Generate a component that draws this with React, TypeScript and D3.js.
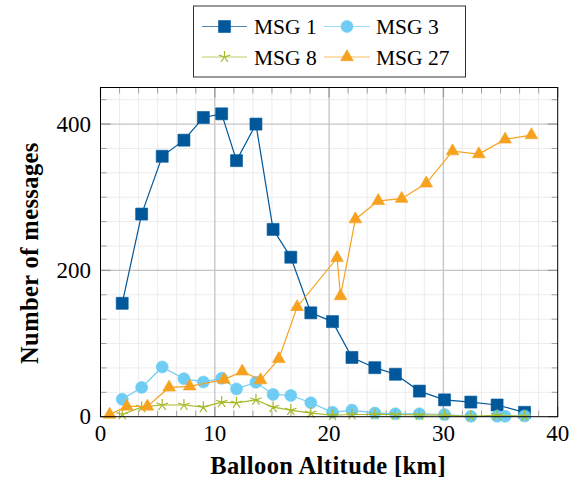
import React from "react";
import * as d3 from "d3";

const xTicks = [0, 10, 20, 30, 40];
const yTicks = [0, 200, 400];

const msg1X = [1.9, 3.6, 5.4, 7.3, 9.0, 10.6, 11.9, 13.6, 15.1, 16.65, 18.4, 20.3, 22.0, 24.0, 25.8, 27.9, 30.1, 32.4, 34.7, 37.1];
const msg1Y = [155, 277, 356, 378, 409, 414, 350, 400, 256, 218, 142, 130, 81, 67, 58, 35, 23, 20, 16, 6];

const msg3X = [1.9, 3.6, 5.4, 7.3, 9.0, 10.6, 11.9, 13.6, 15.1, 16.65, 18.4, 20.3, 22.0, 24.0, 25.8, 27.9, 30.1, 32.4, 34.7, 35.4, 37.1];
const msg3Y = [24, 40, 68, 52, 47.5, 52.5, 38, 47, 30.5, 29, 19, 6, 9, 5, 4, 4, 3, 0.5, 0.5, 0.5, 1];

const msg8X = [1.9, 3.6, 5.4, 7.3, 9.0, 10.6, 11.9, 13.6, 15.1, 16.65, 18.4, 20.3, 22.0, 24.0, 25.8, 27.9, 30.1, 32.4, 34.7, 37.1];
const msg8Y = [3, 13, 16, 16, 13, 20, 19, 23, 13, 9, 5, 2, 3, 3, 3, 2.5, 2, 0.5, 2, 0.5];

const msg27X = [0.8, 2.3, 4.1, 6.0, 7.8, 10.8, 12.4, 14.0, 15.6, 17.2, 20.7, 21.0, 22.3, 24.3, 26.35, 28.5, 30.8, 33.1, 35.4, 37.7];
const msg27Y = [3, 14, 14, 40, 41.5, 50.7, 62, 50, 79, 150, 217, 165, 270, 295, 298, 319, 363, 359, 379, 385];

const seriesNames = ["MSG 1", "MSG 3", "MSG 8", "MSG 27"];

type Mark = "square" | "circle" | "star" | "triangle";

const W = 579, H = 482;
const L = 100.5, R = 557.7, T = 87.5, B = 416.7;
const FONT = "Liberation Serif, DejaVu Serif, serif";

function markerPath(m: Mark): string {
  if (m === "square") return d3.symbol(d3.symbolSquare, 144)()!;
  if (m === "circle") return d3.symbol(d3.symbolCircle, Math.PI * 36)()!;
  if (m === "triangle") return d3.symbol(d3.symbolTriangle, 70)()!;
  const r = 6;
  let p = "";
  for (let i = 0; i < 5; i++) {
    const a = -Math.PI / 2 + (i * 2 * Math.PI) / 5;
    p += `M0,0L${(r * Math.cos(a)).toFixed(2)},${(r * Math.sin(a)).toFixed(2)}`;
  }
  return p;
}

export default function App() {
  const x = d3.scaleLinear().domain([0, 40]).range([L, R]);
  const y = d3.scaleLinear().domain([0, 450]).range([B, T]);

  const series = [
    { name: seriesNames[0], xs: msg1X, ys: msg1Y, color: "#00589b", mark: "square" as Mark },
    { name: seriesNames[1], xs: msg3X, ys: msg3Y, color: "#6fcdf3", mark: "circle" as Mark },
    { name: seriesNames[2], xs: msg8X, ys: msg8Y, color: "#a8b92a", mark: "star" as Mark },
    { name: seriesNames[3], xs: msg27X, ys: msg27Y, color: "#f7a21f", mark: "triangle" as Mark },
  ];

  const line = d3.line<[number, number]>().x(d => x(d[0])).y(d => y(d[1]));

  const xMinor = d3.range(0, 40.001, 10 / 6).filter(v => Math.abs(v / 10 - Math.round(v / 10)) > 1e-6);
  const yMinor = d3.range(0, 450.001, 200 / 6).filter(v => Math.abs(v / 200 - Math.round(v / 200)) > 1e-6);
  const xMajor = x.ticks(4);
  const yMajor = yTicks;

  const renderMark = (m: Mark, color: string, cx: number, cy: number, key: any) => {
    const d = markerPath(m);
    if (m === "star") {
      return <path key={key} d={d} transform={`translate(${cx},${cy})`} stroke={color} strokeWidth={1.2} fill="none" />;
    }
    return <path key={key} d={d} transform={`translate(${cx},${cy})`} fill={color} stroke={color} strokeOpacity={0.6} strokeWidth={1} />;
  };

  const legendRows = [
    { cols: [0, 1], cy: 26.5 },
    { cols: [2, 3], cy: 57 },
  ];
  const colX = [{ l0: 202, l1: 247, t: 254 }, { l0: 324, l1: 370, t: 376 }];
  const fontStyle = { fontFamily: FONT };
  const titleStyle = { fontFamily: FONT, letterSpacing: "0.4px" };

  return (
    <svg width={W} height={H} style={{ display: "block", position: "absolute", left: 0, top: 0 }}>
      <rect x={0} y={0} width={W} height={H} fill="#fff" />
      <g stroke="#ececec" strokeWidth={1}>
        {xMinor.map((v, i) => <line key={"xm" + i} x1={x(v)} x2={x(v)} y1={T} y2={B} />)}
        {yMinor.map((v, i) => <line key={"ym" + i} x1={L} x2={R} y1={y(v)} y2={y(v)} />)}
      </g>
      <g stroke="#c4c4c4" strokeWidth={1.3}>
        {xMajor.filter(v => v > 0 && v < 40).map((v, i) => <line key={"xM" + i} x1={x(v)} x2={x(v)} y1={T} y2={B} />)}
        {yMajor.filter(v => v > 0).map((v, i) => <line key={"yM" + i} x1={L} x2={R} y1={y(v)} y2={y(v)} />)}
      </g>
      <g stroke="#a0a0a0" strokeWidth={1}>
        {xMinor.map((v, i) => (
          <g key={"xmt" + i}>
            <line x1={x(v)} x2={x(v)} y1={B} y2={B - 6} />
            <line x1={x(v)} x2={x(v)} y1={T} y2={T + 6} />
          </g>
        ))}
        {yMinor.map((v, i) => (
          <g key={"ymt" + i}>
            <line x1={L} x2={L + 6} y1={y(v)} y2={y(v)} />
            <line x1={R} x2={R - 6} y1={y(v)} y2={y(v)} />
          </g>
        ))}
      </g>
      <g stroke="#999" strokeWidth={1.3}>
        {xMajor.map((v, i) => (
          <g key={"xMt" + i}>
            <line x1={x(v)} x2={x(v)} y1={B} y2={B - 10} />
            <line x1={x(v)} x2={x(v)} y1={T} y2={T + 10} />
          </g>
        ))}
        {yMajor.map((v, i) => (
          <g key={"yMt" + i}>
            <line x1={L} x2={L + 10} y1={y(v)} y2={y(v)} />
            <line x1={R} x2={R - 10} y1={y(v)} y2={y(v)} />
          </g>
        ))}
      </g>
      {series.map((s, si) => {
        const pts: [number, number][] = s.xs.map((xv, i) => [xv, s.ys[i]]);
        return (
          <g key={"s" + si}>
            <path d={line(pts)!} fill="none" stroke={s.color} strokeWidth={1.2} />
            {pts.map((p, i) => renderMark(s.mark, s.color, x(p[0]), y(p[1]), i))}
          </g>
        );
      })}
      <rect x={L} y={T} width={R - L} height={B - T} fill="none" stroke="#000" strokeWidth={1} />
      <g fontSize={23} fill="#000">
        {xTicks.map((v, i) => (
          <text key={"xl" + i} x={x(v)} y={441} textAnchor="middle" style={fontStyle}>{v}</text>
        ))}
        {yTicks.map((v, i) => (
          <text key={"yl" + i} x={91} y={y(v) + 7.5} textAnchor="end" style={fontStyle}>{v}</text>
        ))}
      </g>
      <text x={(L + R) / 2 - 1} y={474} textAnchor="middle" style={titleStyle} fontWeight="bold" fontSize={24.5}>Balloon Altitude [km]</text>
      <text transform={`translate(37.5,${(T + B) / 2 + 1}) rotate(-90)`} textAnchor="middle" style={titleStyle} fontWeight="bold" fontSize={24.5}>Number of messages</text>
      <rect x={193.5} y={6} width={272} height={71} fill="#fff" stroke="#333" strokeWidth={1} />
      {legendRows.map((row, ri) =>
        row.cols.map((si, ci) => {
          const s = series[si];
          const c = colX[ci];
          return (
            <g key={"lg" + ri + "-" + ci}>
              <line x1={c.l0} x2={c.l1} y1={row.cy} y2={row.cy} stroke={s.color} strokeWidth={1.2} strokeOpacity={0.7} />
              {renderMark(s.mark, s.color, (c.l0 + c.l1) / 2, row.cy, "m")}
              <text x={c.t} y={row.cy + 7.5} style={fontStyle} fontSize={21.5}>{s.name}</text>
            </g>
          );
        })
      )}
    </svg>
  );
}
